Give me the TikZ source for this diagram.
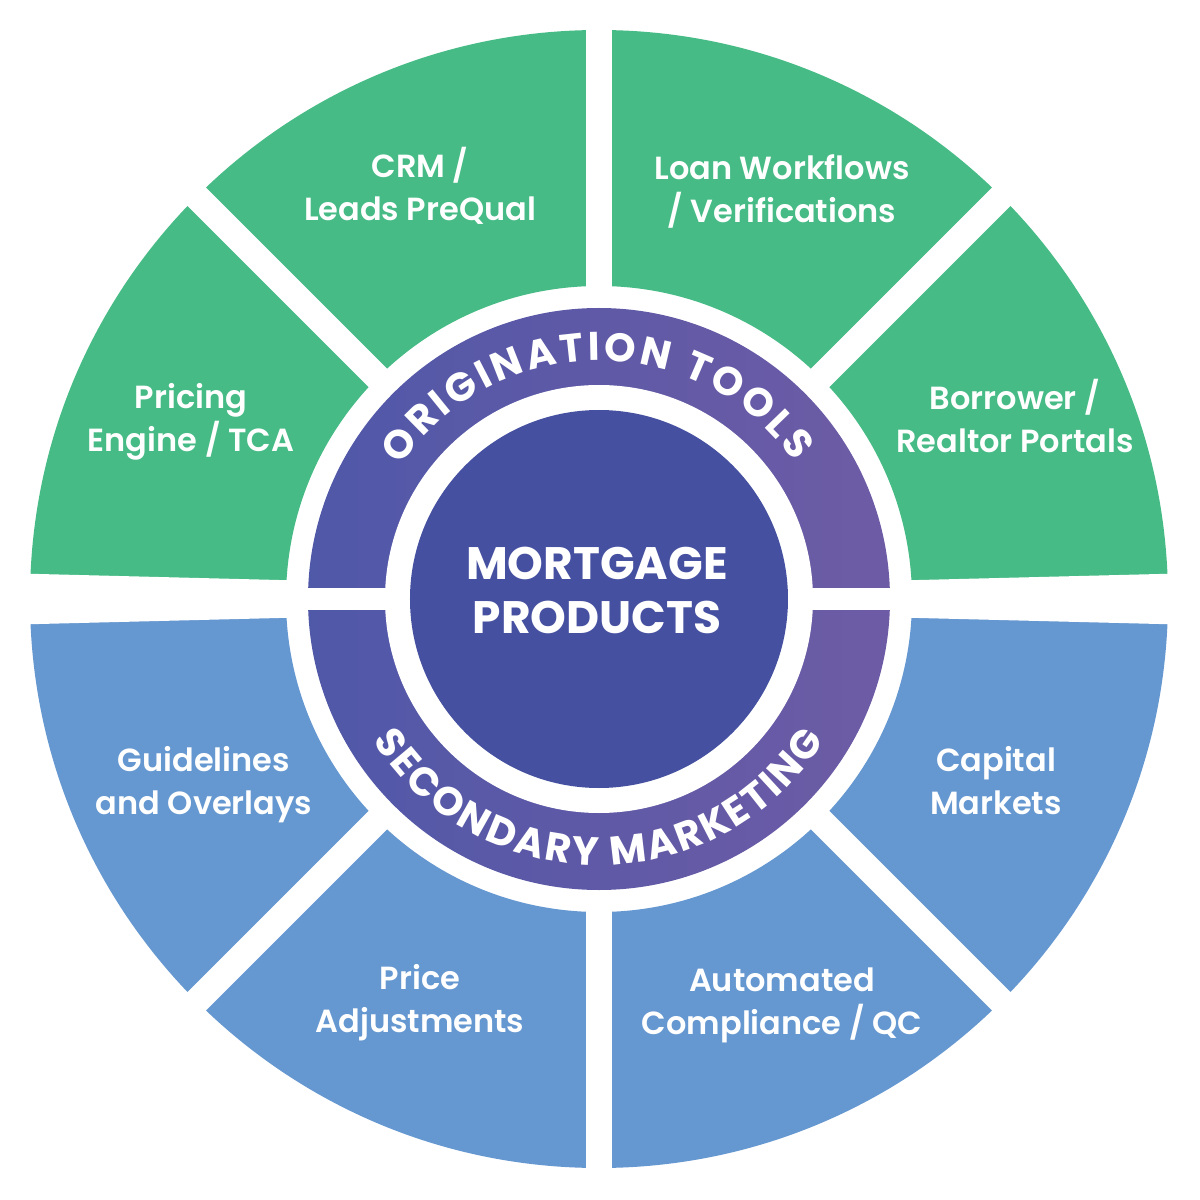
\documentclass[tikz,border=0pt]{standalone}
\usepackage{fontspec}
\setmainfont{Poppins}
\newfontfamily\toolfont{Poppins SemiBold}
\newfontfamily\ringfont{Poppins Bold}
\usetikzlibrary{decorations.text}

\definecolor{toolgreen}{RGB}{70,187,133}
\definecolor{secblue}{RGB}{101,151,208}
\definecolor{ringleft}{RGB}{80,88,168}
\definecolor{ringright}{RGB}{110,91,165}
\definecolor{hubblue}{RGB}{69,80,160}

\begin{document}
\begin{tikzpicture}[x=1pt,y=1pt,
    tool/.style={text=white,align=center,font=\toolfont\fontsize{32}{43}\selectfont},
    hub/.style={text=white,align=center,font=\ringfont\fontsize{45.5}{54}\selectfont},
    gap/.style={white,line width=26pt}]
\useasboundingbox (-599,-601) rectangle (601,599);
% Outer segments
\fill[toolgreen] (0:569pt) arc[start angle=0,end angle=180,radius=569pt]
  -- (180:313pt) arc[start angle=180,end angle=0,radius=313pt] -- cycle;
\fill[secblue] (180:569pt) arc[start angle=180,end angle=360,radius=569pt]
  -- (0:313pt) arc[start angle=360,end angle=180,radius=313pt] -- cycle;
\foreach \a in {45,90,135,225,270,315}
  \draw[gap] (0,0) -- (\a:600);
\fill[white] (-600,26) -- (0,11) -- (600,26) -- (600,-26) -- (0,-11) -- (-600,-26) -- cycle;
% Ring and hub
\shade[left color=ringleft,right color=ringright] (0,0) circle[radius=291pt];
\fill[white] (-300,-11) rectangle (300,11);
\fill[white] (0,0) circle[radius=214pt];
\fill[hubblue] (0,0) circle[radius=189pt];
\path[decorate,decoration={text along path,text align=fit to path,
    text={|\ringfont\fontsize{40}{40}\selectfont\color{white}|ORIGINATION TOOLS}}]
  (146:238.5) arc[start angle=146,end angle=35,radius=238.5pt];
\path[decorate,decoration={text along path,text align=fit to path,
    text={|\ringfont\fontsize{40}{40}\selectfont\color{white}|SECONDARY MARKETING}}]
  (212:266.5) arc[start angle=212,end angle=328,radius=266.5pt];
\node[hub] (main) at (-2,9) {MORTGAGE\\PRODUCTS};
% Segment labels
\node[tool] (crm)        at (-179,413) {CRM /\\Leads PreQual};
\node[tool] (loan)       at (183,408)  {Loan Workflows\\/ Verifications};
\node[tool] (pricing)    at (-408,177) {Pricing\\Engine / TCA};
\node[tool] (portals)    at (416,183)  {Borrower /\\Realtor Portals};
\node[tool] (guide)      at (-395,-186) {Guidelines\\and Overlays};
\node[tool] (capital)    at (397,-182) {Capital\\Markets};
\node[tool] (priceadj)   at (-179,-404) {Price\\Adjustments};
\node[tool] (compliance) at (183,-406) {Automated\\Compliance / QC};
\end{tikzpicture}
\end{document}
